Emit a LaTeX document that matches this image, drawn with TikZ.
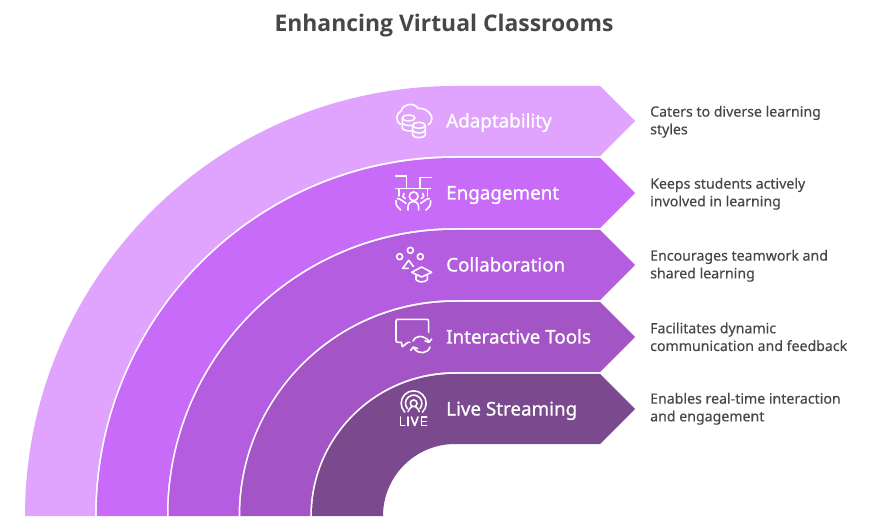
\documentclass[tikz,border=0pt]{standalone}
\usepackage{fontspec}
\setmainfont{Noto Sans}
\newfontfamily\heavyfont{Open Sans}[Ligatures=TeX]
\newfontfamily\midfont[FakeBold=0.9]{Noto Sans}
\newfontfamily\lightfont[FakeBold=0.3]{Noto Sans}
\definecolor{bandA}{HTML}{E0A4FE}
\definecolor{bandB}{HTML}{C96BF9}
\definecolor{bandC}{HTML}{B55DE0}
\definecolor{bandD}{HTML}{A355C6}
\definecolor{bandE}{HTML}{7B4A8E}
\definecolor{ink}{HTML}{474747}
\tikzset{
  titletext/.style={font=\fontsize{22.9}{28}\heavyfont\bfseries,text=ink,inner sep=0pt},
  bandlabel/.style={font=\fontsize{18.8}{22}\midfont,text=white,anchor=base west,inner sep=0pt},
  desctext/.style={font=\fontsize{14.15}{17.7}\lightfont,text=ink,anchor=west,align=left,inner sep=0pt},
  iconline/.style={draw=white,line width=1.6pt,line cap=round,line join=round},
}
% #1 colour, #2 #3 outer radii, #4 #5 inner radii
\newcommand{\bandshape}[5]{%
  \fill[#1] (455-#2,9) arc[start angle=180,end angle=90,x radius=#2,y radius=#3]
    -- (600,9+#3) -- (635,9+#3-35) -- (600,9+#5)
    -- (455,9+#5) arc[start angle=90,end angle=180,x radius=#4,y radius=#5] -- cycle;%
}
\begin{document}
\begin{tikzpicture}[x=1pt,y=1pt]
\useasboundingbox (0,0) rectangle (875,525);
\fill[white] (0,0) rectangle (875,525);
\bandshape{bandA}{430}{430}{360}{360}
\bandshape{bandB}{358.25}{358}{288.25}{288}
\bandshape{bandC}{286.5}{286}{216.5}{216}
\bandshape{bandD}{214.75}{214}{144.75}{144}
\bandshape{bandE}{143}{142}{72}{72}
\node[titletext] (title) at (444,499) {Enhancing Virtual Classrooms};
\node[bandlabel] (l1) at (446,397.5) {Adaptability};
\node[bandlabel] (l2) at (446,325.5) {Engagement};
\node[bandlabel] (l3) at (446,253.5) {Collaboration};
\node[bandlabel] (l4) at (446,181.5) {Interactive Tools};
\node[bandlabel] (l5) at (446,109.5) {Live Streaming};
\node[desctext] (d1) at (650,403.2) {Caters to diverse learning\\styles};
\node[desctext] (d2) at (650,331.2) {Keeps students actively\\involved in learning};
\node[desctext] (d3) at (650,259.2) {Encourages teamwork and\\shared learning};
\node[desctext] (d4) at (650,188.2) {Facilitates dynamic\\communication and feedback};
\node[desctext] (d5) at (650,116.2) {Enables real-time interaction\\and engagement};
% icons, in zoom-crop coordinates (3 units per pixel)
\begin{scope}[shift={(380,435)},x=0.3333pt,y=-0.3333pt,iconline]
  % cloud
  \draw (62,104) .. controls (46,95) and (46,72) .. (64,62)
    .. controls (66,44) and (104,34) .. (114,56)
    .. controls (138,50) and (162,78) .. (154,92) .. controls (153,98) and (150,102) .. (145,104);
  % cylinders
  \draw (67,84) .. controls (67,72) and (105,72) .. (105,84) .. controls (105,96) and (67,96) .. (67,84);
  \draw (67,84) -- (67,114) .. controls (67,119) and (80,124) .. (96,123);
  \draw (67,99) .. controls (70,105) and (85,108) .. (97,106);
  \draw (98,106) .. controls (98,94) and (136,94) .. (136,106) .. controls (136,118) and (98,118) .. (98,106);
  \draw (98,106) -- (98,134) .. controls (98,146) and (136,146) .. (136,134) -- (136,106);
  \draw (98,120) .. controls (98,132) and (136,132) .. (136,120);
  % engagement
  \draw (47,258) -- (80,258) -- (80,296);
  \draw (155,262) -- (120,262) -- (120,296);
  \draw (48,296) -- (152,296);
  \draw (57,296) -- (57,318);
  \draw (143,296) -- (143,318);
  \draw (101,319) circle (4.4pt);
  \draw (84,360) -- (84,352) .. controls (84,328) and (116,328) .. (116,352) -- (116,360);
  \draw (48,332) .. controls (46,350) and (56,352) .. (62,360);
  \draw (152,332) .. controls (154,350) and (144,352) .. (138,360);
  \draw (52,326) .. controls (60,324) and (70,336) .. (78,340);
  \draw (148,326) .. controls (140,324) and (130,336) .. (122,340);
  \draw (72,310) .. controls (66,316) and (68,324) .. (76,326);
  \draw (128,310) .. controls (134,316) and (132,324) .. (124,326);
  % collaboration, crop 2 lifted by 145 px = 435 units
  \begin{scope}[yshift=-145pt]
  \draw (91,46) circle (3pt);
  \draw (59,65) circle (3pt);
  \draw (121,65) circle (3pt);
  \draw (85,100) -- (68,100) -- (86,76) -- (100,94);
  \draw (125,96) -- (155,112) -- (125,126) -- (95,112) -- cycle;
  \draw (108,122) -- (108,134) .. controls (115,143) and (135,143) .. (142,134) -- (142,122);
  % interactive tools
  \draw (64,322) -- (54,322) .. controls (50,322) and (48,320) .. (48,316) -- (48,259)
     .. controls (48,255) and (50,253) .. (54,253) -- (140,253) .. controls (144,253) and (146,255) .. (146,259) -- (146,292);
  \draw (64,322) -- (67,335) -- (84,322) -- (90,322);
  \draw (99,318) .. controls (104,302) and (130,298) .. (146,318);
  \draw (155,312) -- (147,322) -- (135,318);
  \draw (150,336) .. controls (144,356) and (116,360) .. (102,340);
  \draw (92,346) -- (100,336) -- (113,341);
  % live
  \draw ([shift={(225:12.5pt)}]101,505) arc[start angle=225,end angle=-45,radius=12.5pt];
  \draw ([shift={(220:8.2pt)}]101,505) arc[start angle=220,end angle=-40,radius=8.2pt];
  \draw (101,505) circle (3.4pt);
  \draw (84,530) .. controls (86,522) and (92,517) .. (96,515);
  \draw (118,530) .. controls (116,522) and (110,517) .. (106,515);
  \draw (62,546) -- (62,572) -- (74,572);
  \draw (84,546) -- (84,572);
  \draw (94,546) -- (104,572) -- (114,546);
  \draw (140,546) -- (124,546) -- (124,572) -- (140,572);
  \draw (124,559) -- (138,559);
  \end{scope}
\end{scope}
\end{tikzpicture}
\end{document}
